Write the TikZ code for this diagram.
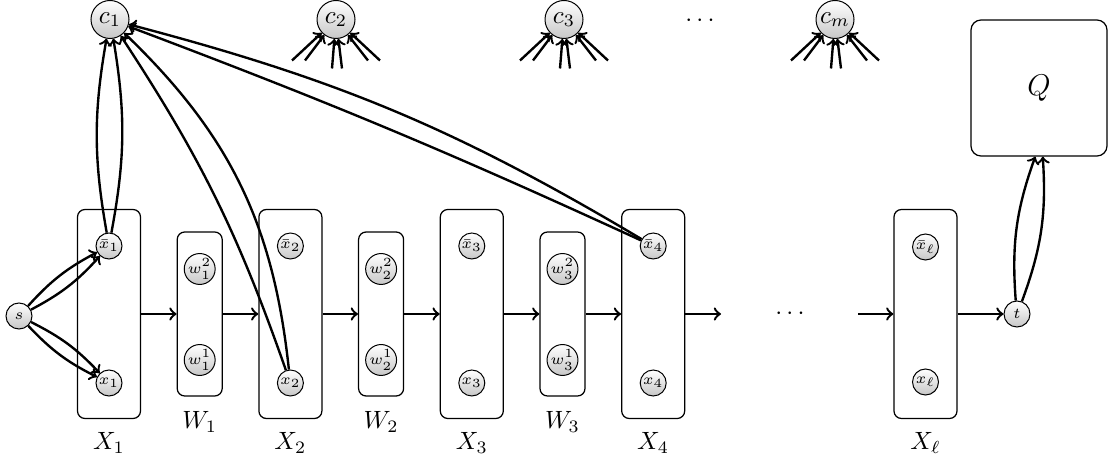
\documentclass[tikz,border=0pt]{standalone}
\begin{document}
\begin{tikzpicture}[x=0.4pt,y=-0.4pt,
  vtx/.style={circle,draw,line width=0.4pt,top color=white,bottom color=black!22,minimum size=10.4pt,inner sep=0pt,font=\fontsize{6}{7}\selectfont},
  cvtx/.style={circle,draw,line width=0.4pt,top color=white,bottom color=black!22,minimum size=15.2pt,inner sep=0pt,font=\normalsize},
  xbox/.style={draw,rounded corners=3pt,minimum width=25.2pt,minimum height=83.6pt,line width=0.5pt},
  wbox/.style={draw,rounded corners=3pt,minimum width=18pt,minimum height=65.6pt,line width=0.5pt},
  qbox/.style={draw,rounded corners=4pt,minimum size=54.4pt,line width=0.5pt,font=\large},
  arr/.style={->,line width=0.95pt},
  lab/.style={anchor=base}
]
\useasboundingbox (0,0) rectangle (1114,465);

% boxes
\node[xbox] (X1) at (109,314) {};
\node[wbox] (W1) at (199.7,314) {};
\node[xbox] (X2) at (290.4,314) {};
\node[wbox] (W2) at (381.1,314) {};
\node[xbox] (X3) at (471.8,314) {};
\node[wbox] (W3) at (562.5,314) {};
\node[xbox] (X4) at (653.2,314) {};
\node[xbox] (Xl) at (925.5,314) {};
\node[qbox] (Q) at (1039,88) {$Q$};

% labels
\node[lab] (lX1) at (109,450) {$X_1$};
\node[lab] (lW1) at (199.7,429) {$W_1$};
\node[lab] (lX2) at (290.4,450) {$X_2$};
\node[lab] (lW2) at (381.1,429) {$W_2$};
\node[lab] (lX3) at (471.8,450) {$X_3$};
\node[lab] (lW3) at (562.5,429) {$W_3$};
\node[lab] (lX4) at (653.2,450) {$X_4$};
\node[lab] (lXl) at (925.5,450) {$X_\ell$};

% vertices
\node[vtx] (s) at (19,316) {$s$};
\node[vtx] (t) at (1017,314) {$t$};
\node[vtx] (xb1) at (109,246) {$\bar{x}_1$};
\node[vtx] (x1) at (109,383) {$x_1$};
\node[vtx] (w12) at (199.7,269) {$w_1^2$};
\node[vtx] (w11) at (199.7,360) {$w_1^1$};
\node[vtx] (xb2) at (290.4,246) {$\bar{x}_2$};
\node[vtx] (x2) at (290.4,383) {$x_2$};
\node[vtx] (w22) at (381.1,269) {$w_2^2$};
\node[vtx] (w21) at (381.1,360) {$w_2^1$};
\node[vtx] (xb3) at (471.8,246) {$\bar{x}_3$};
\node[vtx] (x3) at (471.8,383) {$x_3$};
\node[vtx] (w32) at (562.5,269) {$w_3^2$};
\node[vtx] (w31) at (562.5,360) {$w_3^1$};
\node[vtx] (xb4) at (653.2,246) {$\bar{x}_4$};
\node[vtx] (x4) at (653.2,383) {$x_4$};
\node[vtx] (xbl) at (925.5,247) {$\bar{x}_\ell$};
\node[vtx] (xl) at (925.5,382) {$x_\ell$};

\node[cvtx] (c1) at (110,19.5) {$c_1$};
\node[cvtx] (c2) at (336,19.5) {$c_2$};
\node[cvtx] (c3) at (564,19.5) {$c_3$};
\node[cvtx] (cm) at (835,19.5) {$c_m$};
\node (dtop) at (700,21) {$\cdots$};
\node (dmid) at (790,314) {$\cdots$};

% chain arrows
\coordinate (e4) at (721,314);
\coordinate (sl) at (858,314);
\draw[arr] (X1) -- (W1);
\draw[arr] (W1) -- (X2);
\draw[arr] (X2) -- (W2);
\draw[arr] (W2) -- (X3);
\draw[arr] (X3) -- (W3);
\draw[arr] (W3) -- (X4);
\draw[arr] (X4) -- (e4);
\draw[arr] (sl) -- (Xl);
\draw[arr] (Xl) -- (t);

% s edges
\draw[arr] (s) to[bend left=10] (xb1);
\draw[arr] (s) to[bend right=10] (xb1);
\draw[arr] (s) to[bend left=10] (x1);
\draw[arr] (s) to[bend right=10] (x1);

% clause edges
\draw[arr] (xb1) to[bend left=10] (c1);
\draw[arr] (xb1) to[bend right=10] (c1);
\draw[arr] (x2) to[bend right=7] (c1);
\draw[arr] (x2) to[bend right=20] (c1);
\draw[arr] (xb4) to[bend right=2] (c1);
\draw[arr] (xb4) to[bend right=8] (c1);

% t to Q
\draw[arr] (t) to[bend left=12] ([xshift=-1.5pt]Q.south);
\draw[arr] (t) to[bend right=12] ([xshift=1.5pt]Q.south);

% stubs into other clauses
\foreach \n/\cx in {c2/336, c3/564, cm/835} {
  \foreach \dx/\dy [count=\i] in {-44/41, -31/41, -4/49, 6/49, 32/41, 44/41} {
    \coordinate (\n-s\i) at (\cx+\dx, 19.5+\dy);
    \draw[arr] (\n-s\i) -- (\n);
  }
}
\end{tikzpicture}
\end{document}
